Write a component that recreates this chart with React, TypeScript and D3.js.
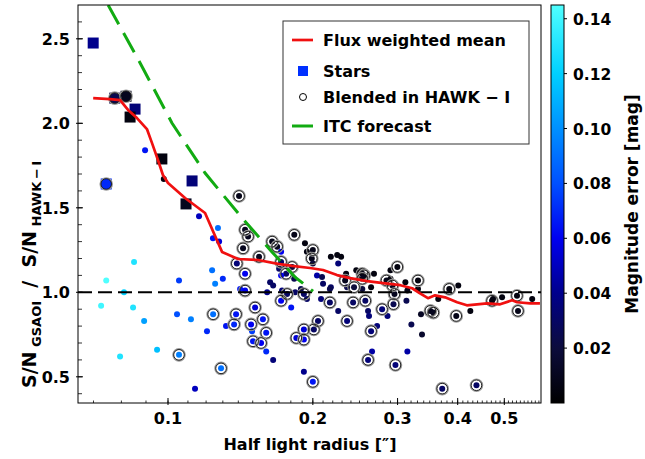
import React from "react";
import * as d3 from "d3";

// half light radius ["], S/N ratio, magnitude error [mag], blended in HAWK-I (1 = yes)
const hlr = [
  0.0896, 0.098, 0.1405, 0.116, 0.127, 0.124, 0.1277, 0.1446, 0.1467, 0.1432,
  0.1546, 0.139, 0.1446, 0.1646, 0.1686, 0.183, 0.1926, 0.1944, 0.2, 0.199,
  0.2, 0.1718, 0.1718, 0.1702, 0.1811, 0.176, 0.1718, 0.085, 0.0744, 0.081,
  0.1054, 0.1235, 0.1253, 0.13, 0.1412, 0.1446, 0.1607, 0.163, 0.1654, 0.1726,
  0.1768, 0.1838, 0.1829, 0.1889, 0.1916, 0.1944, 0.208, 0.204, 0.209, 0.21,
  0.218, 0.2258, 0.218, 0.2247, 0.229, 0.2345, 0.2334, 0.2436, 0.2462, 0.2498,
  0.2534, 0.2558, 0.2534, 0.2534, 0.268, 0.2643, 0.29, 0.2997, 0.2845, 0.29,
  0.2928, 0.3114, 0.3308, 0.3308, 0.2956, 0.3144, 0.313, 0.217, 0.2356, 0.217,
  0.2258, 0.2425, 0.2571, 0.2605, 0.2617, 0.2356, 0.2786, 0.2859, 0.2942, 0.2643,
  0.272, 0.3205, 0.3372, 0.3356, 0.351, 0.356, 0.3645, 0.3842, 0.4011, 0.3973,
  0.425, 0.4715, 0.4737, 0.4947, 0.5313, 0.5339, 0.5714, 0.2655, 0.2605, 0.3144,
  0.297, 0.3715, 0.4376, 0.1138, 0.2, 0.1916, 0.0726, 0.0846, 0.0892, 0.1044,
  0.1116, 0.1241, 0.1205, 0.132, 0.1385, 0.1372, 0.1517, 0.1488, 0.1575, 0.1495,
  0.16, 0.1502, 0.1561, 0.16, 0.1654, 0.0795, 0.0949, 0.1054, 0.1289, 0.1718,
  0.1803, 0.205, 0.201, 0.1916, 0.1848, 0.1916,
];
const snRatio = [
  1.84, 1.67, 1.57, 1.45, 1.38, 1.32, 1.30, 1.37, 1.33, 1.26,
  1.21, 1.17, 1.11, 1.30, 1.27, 1.34, 1.29, 1.24, 1.25, 1.20,
  1.17, 1.24, 1.18, 1.14, 1.15, 1.11, 1.10, 1.18, 1.07, 1.0,
  1.07, 1.13, 1.05, 1.08, 1.02, 1.01, 1.0, 1.06, 1.04, 1.01,
  0.99, 1.0, 1.08, 1.02, 0.99, 0.96, 0.96, 1.10, 1.09, 1.05,
  1.03, 1.17, 1.21, 1.22, 1.21, 1.11, 1.07, 1.03, 1.13, 1.12,
  1.11, 1.10, 1.08, 1.02, 1.11, 1.03, 1.13, 1.15, 1.07, 1.08,
  1.04, 1.06, 1.07, 1.02, 0.99, 1.01, 0.95, 1.02, 1.03, 0.94,
  0.89, 0.94, 0.95, 0.89, 0.86, 0.83, 0.90, 0.86, 0.93, 0.77,
  0.80, 0.81, 0.75, 0.87, 0.89, 0.88, 0.96, 1.02, 1.04, 0.86,
  0.89, 0.95, 0.96, 0.97, 0.98, 0.89, 0.96, 0.65, 0.60, 0.65,
  0.57, 0.43, 0.45, 0.43, 0.47, 0.53, 0.92, 0.91, 0.83, 0.87,
  0.84, 0.87, 0.77, 0.80, 0.87, 0.81, 0.91, 0.81, 0.84, 0.77,
  0.76, 0.71, 0.70, 0.65, 0.60, 0.62, 0.66, 0.63, 0.55, 0.95,
  0.91, 0.83, 0.78, 0.78, 0.73, 0.72,
];
const magErr = [
  0.065, 0.005, 0.008, 0.05, 0.09, 0.065, 0.055, 0.01, 0.01, 0.01,
  0.01, 0.035, 0.06, 0.008, 0.01, 0.008, 0.005, 0.006, 0.008, 0.008,
  0.02, 0.06, 0.03, 0.03, 0.02, 0.03, 0.06, 0.13, 0.145, 0.12,
  0.075, 0.09, 0.095, 0.07, 0.065, 0.06, 0.04, 0.03, 0.03, 0.035,
  0.03, 0.03, 0.025, 0.025, 0.03, 0.03, 0.035, 0.045, 0.025, 0.03,
  0.03, 0.035, 0.005, 0.005, 0.005, 0.005, 0.01, 0.02, 0.005, 0.005,
  0.008, 0.008, 0.01, 0.02, 0.005, 0.005, 0.005, 0.005, 0.008, 0.005,
  0.01, 0.005, 0.005, 0.005, 0.01, 0.008, 0.025, 0.025, 0.025, 0.03,
  0.03, 0.03, 0.03, 0.03, 0.035, 0.035, 0.035, 0.035, 0.025, 0.035,
  0.035, 0.025, 0.015, 0.012, 0.01, 0.01, 0.005, 0.005, 0.005, 0.008,
  0.005, 0.005, 0.005, 0.005, 0.005, 0.008, 0.005, 0.045, 0.035, 0.045,
  0.035, 0.03, 0.03, 0.05, 0.065, 0.04, 0.14, 0.13, 0.105, 0.08,
  0.095, 0.09, 0.07, 0.065, 0.065, 0.07, 0.055, 0.06, 0.065, 0.075,
  0.065, 0.065, 0.06, 0.07, 0.035, 0.13, 0.115, 0.095, 0.09, 0.06,
  0.065, 0.03, 0.03, 0.055, 0.055, 0.06,
];
const blended = [
  0, 0, 1, 0, 0, 0, 0, 1, 1, 1,
  1, 1, 1, 1, 1, 1, 0, 0, 1, 1,
  0, 0, 1, 0, 1, 1, 0, 0, 0, 0,
  0, 0, 0, 0, 0, 1, 0, 0, 0, 0,
  1, 0, 0, 0, 1, 0, 0, 0, 0, 0,
  0, 0, 0, 0, 0, 0, 1, 1, 0, 0,
  1, 1, 1, 0, 0, 0, 0, 1, 1, 0,
  1, 0, 1, 0, 1, 0, 0, 0, 0, 1,
  0, 1, 1, 0, 0, 1, 1, 0, 1, 1,
  0, 0, 0, 0, 1, 1, 0, 1, 0, 1,
  0, 1, 0, 0, 1, 1, 0, 0, 1, 0,
  1, 1, 1, 0, 1, 0, 0, 0, 0, 0,
  0, 1, 0, 0, 1, 1, 1, 1, 1, 0,
  1, 1, 1, 0, 0, 0, 0, 1, 1, 1,
  0, 1, 1, 1, 1, 1,
];

// stars
const starHlr = [0.0699, 0.0744, 0.0775, 0.0818, 0.0854, 0.0834, 0.0971, 0.1122, 0.109];
const starRatio = [2.475, 1.641, 2.149, 2.16, 2.084, 2.037, 1.789, 1.659, 1.523];
const starErr = [0.04, 0.07, 0.025, 0.01, 0.035, 0.005, 0.005, 0.035, 0.01];
const starBlended = [0, 1, 1, 1, 0, 0, 0, 0, 0];

// flux weighted mean
const meanHlr = [
  0.0699, 0.0757, 0.0795, 0.0826, 0.0862, 0.0904, 0.0926, 0.0953, 0.0976, 0.1,
  0.1085, 0.1194, 0.1295, 0.1398, 0.1538, 0.1693, 0.181, 0.1973, 0.21, 0.2245,
  0.239, 0.2593, 0.28, 0.304, 0.3217, 0.334, 0.347, 0.359, 0.3766, 0.399,
  0.418, 0.4388, 0.4605, 0.49, 0.519, 0.5317, 0.566, 0.593,
];
const meanRatio = [
  2.149, 2.143, 2.137, 2.079, 2.031, 1.966, 1.884, 1.783, 1.694, 1.647,
  1.558, 1.469, 1.239, 1.197, 1.191, 1.168, 1.156, 1.144, 1.132, 1.102,
  1.084, 1.066, 1.054, 1.042, 1.024, 0.994, 0.965, 0.982, 0.97, 0.941,
  0.923, 0.929, 0.935, 0.929, 0.953, 0.941, 0.935, 0.935,
];

// ITC forecast
const itcHlr = [0.0726, 0.0875, 0.1019, 0.1194, 0.1425, 0.1645, 0.1837, 0.2002];
const itcRatio = [2.775, 2.357, 2.002, 1.706, 1.44, 1.239, 1.09, 1.006];

const xMajor = [0.1, 0.2, 0.3, 0.4, 0.5];
const xMinor = d3.range(7, 60).map((i) => i / 100);
const yMajor = [0.5, 1.0, 1.5, 2.0, 2.5];
const yMinor = d3.range(4, 27).map((i) => i / 10);
const cbTicks = [0.02, 0.04, 0.06, 0.08, 0.1, 0.12, 0.14];
const cmapStops = [0, 0.02, 0.04, 0.06, 0.08, 0.1, 0.12, 0.145];
const cmapColors = ["#000000", "#0c0c3c", "#00008c", "#0000f0", "#0050ff", "#0090ff", "#00d0ff", "#50ffff"];

const FONT = "'DejaVu Sans', sans-serif";

export default function App() {
  const left = 78, right = 541, top = 5, bottom = 403;
  const x = d3.scaleLog().domain([0.065, 0.596]).range([left, right]);
  const y = d3.scaleLinear().domain([0.345, 2.7]).range([bottom, top]);
  const cmap = d3.scaleLinear<string>().domain(cmapStops).range(cmapColors).clamp(true);
  const cb = d3.scaleLinear().domain([0, 0.145]).range([bottom, top]);
  const cbX = 551, cbW = 13;

  const meanPath = d3.line<number>().x((d) => x(d)).y((_, i) => y(meanRatio[i]))(meanHlr) || "";
  const itcPath = d3.line<number>().x((d) => x(d)).y((_, i) => y(itcRatio[i]))(itcHlr) || "";

  const idx = d3.range(hlr.length);
  const fmt = d3.format(".1f");

  const ring = (cx: number, cy: number, key: string) => (
    <g key={key}>
      <circle cx={cx} cy={cy} r={6} fill="none" stroke="#9a9a9a" strokeWidth={1.6} />
      <circle cx={cx} cy={cy} r={5.3} fill="none" stroke="#111" strokeWidth={0.9} />
    </g>
  );

  return (
    <svg width={645} height={459} style={{ position: "absolute", left: 0, top: 0, background: "#fff" }}
      fontFamily={FONT} fontWeight="bold">
      <defs>
        <clipPath id="plotclip">
          <rect x={left} y={top} width={right - left} height={bottom - top} />
        </clipPath>
        <linearGradient id="cbgrad" x1="0" y1="1" x2="0" y2="0">
          {cmapStops.map((s, i) => (
            <stop key={i} offset={s / 0.145} stopColor={cmapColors[i]} />
          ))}
        </linearGradient>
      </defs>

      <g clipPath="url(#plotclip)">
        {idx.map((i) => (
          <circle key={"p" + i} cx={x(hlr[i])} cy={y(snRatio[i])} r={3} fill={cmap(magErr[i])} />
        ))}
        {starHlr.map((d, i) => (
          <rect key={"s" + i} x={x(d) - 5.5} y={y(starRatio[i]) - 5.5} width={11} height={11} fill={cmap(starErr[i])} />
        ))}
        {idx.filter((i) => blended[i]).map((i) => ring(x(hlr[i]), y(snRatio[i]), "b" + i))}
        {starHlr.map((d, i) => (starBlended[i] ? ring(x(d), y(starRatio[i]), "sb" + i) : null))}
        <line x1={left} x2={right} y1={y(1)} y2={y(1)} stroke="#000" strokeWidth={2} strokeDasharray="14 6" />
        <path d={itcPath} fill="none" stroke="#12ab12" strokeWidth={3} strokeDasharray="22 10" strokeDashoffset={17.5} />
        <path d={meanPath} fill="none" stroke="#f01010" strokeWidth={2.7} strokeLinejoin="round" />
      </g>

      {/* frame */}
      <rect x={left} y={top} width={right - left} height={bottom - top} fill="none" stroke="#000" strokeWidth={1} />

      {/* x ticks */}
      {xMinor.map((t) => (
        <line key={"xm" + t} x1={x(t)} x2={x(t)} y1={bottom} y2={bottom - 2.5} stroke="#000" strokeWidth={0.8} />
      ))}
      {xMajor.map((t) => (
        <g key={"xM" + t}>
          <line x1={x(t)} x2={x(t)} y1={bottom + 2} y2={bottom - 5} stroke="#000" strokeWidth={1} />
          <text x={x(t)} y={bottom + 21} textAnchor="middle" fontSize={16}>{String(t)}</text>
        </g>
      ))}
      <text x={310} y={450} textAnchor="middle" fontSize={16}>Half light radius [″]</text>

      {/* y ticks */}
      {yMinor.map((t) => (
        <line key={"ym" + t} x1={left} x2={left + 4} y1={y(t)} y2={y(t)} stroke="#000" strokeWidth={0.8} />
      ))}
      {yMajor.map((t) => (
        <g key={"yM" + t}>
          <line x1={left - 2} x2={left + 5} y1={y(t)} y2={y(t)} stroke="#000" strokeWidth={1} />
          <text x={70} y={y(t) + 6} textAnchor="end" fontSize={16}>{fmt(t)}</text>
        </g>
      ))}
      <text transform="translate(36,388) rotate(-90)" fontSize={19}>
        <tspan>S/N</tspan>
        <tspan fontSize={13} dy={5}>{"\u00a0GSAOI"}</tspan>
        <tspan dy={-5}>{"\u00a0\u00a0/\u00a0\u00a0S/N"}</tspan>
        <tspan fontSize={13} dy={5}>{"\u00a0HAWK\u2009\u2212\u2009I"}</tspan>
      </text>

      {/* legend */}
      <g>
        <rect x={283} y={21} width={246} height={123} fill="#fff" stroke="#333" strokeWidth={1} />
        <line x1={292} x2={313} y1={40} y2={40} stroke="#f01010" strokeWidth={2.7} />
        <text x={323} y={46} fontSize={16}>Flux weighted mean</text>
        <rect x={298} y={66} width={10} height={10} fill="#0030ff" />
        <text x={323} y={77} fontSize={16}>Stars</text>
        <circle cx={303} cy={97} r={3.5} fill="none" stroke="#000" strokeWidth={1} />
        <text x={323} y={103} fontSize={16}>Blended in HAWK − I</text>
        <line x1={292} x2={313} y1={126} y2={126} stroke="#12ab12" strokeWidth={3} />
        <text x={323} y={132} fontSize={16}>ITC forecast</text>
      </g>

      {/* colorbar */}
      <rect x={cbX} y={top} width={cbW} height={bottom - top} fill="url(#cbgrad)" stroke="#000" strokeWidth={1} />
      {cbTicks.map((t) => (
        <g key={"cb" + t}>
          <line x1={cbX + cbW} x2={cbX + cbW + 3} y1={cb(t)} y2={cb(t)} stroke="#000" strokeWidth={1} />
          <text x={573} y={cb(t) + 6} fontSize={15.5}>{t.toFixed(2)}</text>
        </g>
      ))}
      <text transform="translate(638,204) rotate(-90)" textAnchor="middle" fontSize={17}>Magnitude error [mag]</text>
    </svg>
  );
}
